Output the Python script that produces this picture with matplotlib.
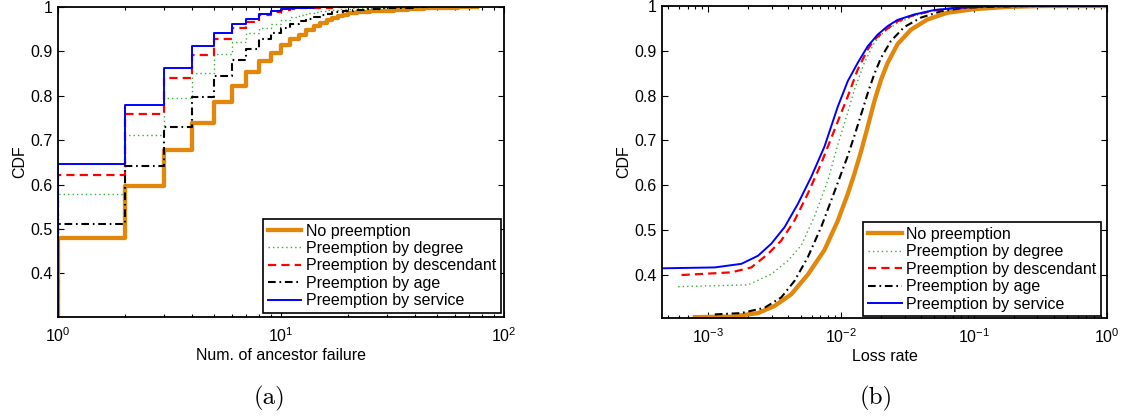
import matplotlib
matplotlib.use('Agg')
import matplotlib.pyplot as plt
from matplotlib.ticker import FixedLocator, FormatStrFormatter, LogLocator
import numpy as np

plt.rcParams['font.family'] = ['Liberation Sans', 'DejaVu Sans']
plt.rcParams['mathtext.default'] = 'regular'

labels = ['No preemption', 'Preemption by degree', 'Preemption by descendant',
          'Preemption by age', 'Preemption by service']

# (a) CDF over number of ancestor failures (step data)
none_k = [1, 2, 3, 4, 5, 6, 7, 8, 9, 10, 11, 12, 13, 14, 15, 16, 17, 18, 19, 20,
          22, 25, 28, 32, 37, 44, 52, 62, 76]
none_cdf = [0.480, 0.598, 0.679, 0.739, 0.786, 0.822, 0.854, 0.878, 0.897, 0.914,
            0.927, 0.938, 0.948, 0.957, 0.965, 0.971, 0.976, 0.980, 0.983, 0.986,
            0.988, 0.990, 0.992, 0.994, 0.996, 0.997, 0.998, 0.999, 1.0]
degree_k = [1, 2, 3, 4, 5, 6, 7, 8, 9, 10, 11, 12, 13, 14, 15, 16, 18, 21, 26, 32, 41]
degree_cdf = [0.578, 0.711, 0.795, 0.852, 0.894, 0.922, 0.941, 0.952, 0.962, 0.971,
              0.978, 0.981, 0.986, 0.989, 0.991, 0.993, 0.995, 0.997, 0.998, 0.999, 1.0]
desc_k = [1, 2, 3, 4, 5, 6, 7, 8, 9, 10, 11, 12, 14, 17, 22]
desc_cdf = [0.622, 0.758, 0.841, 0.893, 0.929, 0.953, 0.967, 0.983, 0.988, 0.993,
            0.996, 0.997, 0.998, 0.999, 1.0]
age_k = [1, 2, 3, 4, 5, 6, 7, 8, 9, 10, 11, 12, 13, 14, 15, 16, 17, 19, 21, 24,
         28, 33, 39, 45]
age_cdf = [0.512, 0.642, 0.730, 0.798, 0.844, 0.880, 0.906, 0.927, 0.941, 0.952,
           0.962, 0.968, 0.973, 0.978, 0.982, 0.985, 0.988, 0.991, 0.993, 0.995,
           0.997, 0.998, 0.999, 1.0]
service_k = [1, 2, 3, 4, 5, 6, 7, 8, 9, 10, 11, 12, 14, 17]
service_cdf = [0.646, 0.779, 0.862, 0.913, 0.942, 0.961, 0.974, 0.984, 0.991, 0.995,
               0.997, 0.998, 0.999, 1.0]

# (b) CDF over loss rate, x given as log10(loss rate)
none_lx = [-3.1, -2.825, -2.625, -2.5, -2.375, -2.25, -2.125, -2.025, -1.95, -1.9,
           -1.85, -1.8, -1.75, -1.7, -1.65, -1.575, -1.475, -1.35, -1.2, -1.0,
           -0.75, -0.5, 0.0]
none_lc = [0.305, 0.306, 0.314, 0.330, 0.356, 0.400, 0.455, 0.520, 0.580, 0.625,
           0.675, 0.730, 0.787, 0.835, 0.873, 0.915, 0.947, 0.970, 0.985, 0.993,
           0.998, 1.0, 1.0]
degree_lx = [-3.225, -2.7, -2.525, -2.4, -2.3, -2.2, -2.1, -2.025, -1.95, -1.9,
             -1.825, -1.75, -1.675, -1.575, -1.45, -1.3, -1.125, -0.9, -0.6, 0.0]
degree_lc = [0.373, 0.377, 0.401, 0.431, 0.465, 0.530, 0.610, 0.690, 0.762, 0.813,
             0.873, 0.918, 0.943, 0.962, 0.978, 0.990, 0.996, 0.999, 1.0, 1.0]
desc_lx = [-3.2, -2.825, -2.675, -2.55, -2.45, -2.35, -2.25, -2.15, -2.05, -1.95,
           -1.875, -1.8, -1.75, -1.65, -1.575, -1.45, -1.3, -1.125, -0.9, -0.6, 0.0]
desc_lc = [0.399, 0.405, 0.416, 0.446, 0.476, 0.521, 0.581, 0.648, 0.723, 0.798,
           0.858, 0.903, 0.925, 0.950, 0.966, 0.980, 0.990, 0.996, 0.999, 1.0, 1.0]
age_lx = [-2.95, -2.75, -2.575, -2.45, -2.35, -2.25, -2.15, -2.05, -1.95, -1.9,
          -1.85, -1.8, -1.75, -1.7, -1.625, -1.525, -1.4, -1.25, -1.075, -0.825,
          -0.5, 0.0]
age_lc = [0.311, 0.314, 0.326, 0.349, 0.386, 0.439, 0.506, 0.585, 0.665, 0.710,
          0.757, 0.805, 0.848, 0.884, 0.922, 0.953, 0.974, 0.988, 0.996, 0.999,
          1.0, 1.0]
service_lx = [-3.347, -2.95, -2.75, -2.625, -2.525, -2.425, -2.325, -2.225, -2.125,
              -2.025, -1.95, -1.875, -1.8, -1.725, -1.65, -1.575, -1.45, -1.3,
              -1.125, -0.9, -0.6, 0.0]
service_lc = [0.414, 0.416, 0.424, 0.442, 0.469, 0.506, 0.558, 0.618, 0.686, 0.775,
              0.832, 0.873, 0.910, 0.936, 0.955, 0.969, 0.981, 0.991, 0.996, 0.999,
              1.0, 1.0]

# line styles, same order as labels
styles = [
    dict(color='#E0870C', lw=3.1, ls='-'),
    dict(color='#3DAA3D', lw=1.0, ls=(0, (1, 2.2))),
    dict(color='#FF0000', lw=1.6, ls=(0, (3.7, 2.3))),
    dict(color='#000000', lw=1.5, ls=(0, (3.7, 1.8, 0.8, 1.8))),
    dict(color='#0000FF', lw=1.4, ls='-'),
]

fig = plt.figure(figsize=(11.25, 4.19), dpi=100)
ax1 = fig.add_axes([58 / 1125, 1 - 317 / 419, 446 / 1125, 310 / 419])
ax2 = fig.add_axes([662 / 1125, 1 - 318 / 419, 445 / 1125, 312 / 419])

steps = [(none_k, none_cdf), (degree_k, degree_cdf), (desc_k, desc_cdf),
         (age_k, age_cdf), (service_k, service_cdf)]
for (k, c), st, lab in zip(steps, styles, labels):
    # start the staircase from zero at k=1
    ax1.plot(np.r_[1, k], np.r_[0, c], drawstyle='steps-post', label=lab, **st)

curves = [(none_lx, none_lc), (degree_lx, degree_lc), (desc_lx, desc_lc),
          (age_lx, age_lc), (service_lx, service_lc)]
for (lx, c), st, lab in zip(curves, styles, labels):
    ax2.plot(10.0 ** np.array(lx), c, label=lab, **st)

ax1.set_xscale('log')
ax1.set_xlim(1, 100)
ax1.set_ylim(0.302, 1)
ax2.set_xscale('log')
ax2.set_xlim(10 ** -3.347, 1)
ax2.set_ylim(0.303, 1)

for ax in (ax1, ax2):
    ax.yaxis.set_major_locator(FixedLocator([0.4, 0.5, 0.6, 0.7, 0.8, 0.9, 1.0]))
    ax.yaxis.set_major_formatter(FormatStrFormatter('%g'))
    ax.yaxis.set_minor_locator(FixedLocator([]))
    ax.xaxis.set_minor_locator(LogLocator(base=10, subs=np.arange(2, 10)))
    ax.tick_params(which='both', direction='in', top=True, right=True,
                   labelsize=11.5, width=0.8)
    ax.tick_params(which='major', length=4.5, pad=4)
    ax.tick_params(which='minor', length=2.5)
    ax.tick_params(axis='x', which='major', pad=7)
    for s in ax.spines.values():
        s.set_linewidth(1.3)
    ax.set_ylabel('CDF', fontsize=11.5)
    ax.yaxis.set_label_coords(-0.07, 0.5)
    leg = ax.legend(loc='lower right', fontsize=11.5, fancybox=False,
                    edgecolor='black', framealpha=1, handlelength=2.1,
                    handletextpad=0.3, labelspacing=0.15, borderpad=0.3,
                    borderaxespad=0)
    leg.get_frame().set_linewidth(1.2)

ax1.get_legend().set_bbox_to_anchor((0.993, 0.013))
ax2.get_legend().set_bbox_to_anchor((0.9875, 0.005))

ax1.set_xlabel('Num. of ancestor failure', fontsize=11.5)
ax1.xaxis.set_label_coords(0.5, -0.1)
ax2.set_xlabel('Loss rate', fontsize=11.5)
ax2.xaxis.set_label_coords(0.5, -0.1)

fig.text(270 / 1125, 1 - 398 / 419, '(a)', ha='center', va='center',
         fontfamily='cmr10', fontsize=18)
fig.text(876 / 1125, 1 - 398 / 419, '(b)', ha='center', va='center',
         fontfamily='cmr10', fontsize=18)

fig.savefig('out.png', dpi=100)
